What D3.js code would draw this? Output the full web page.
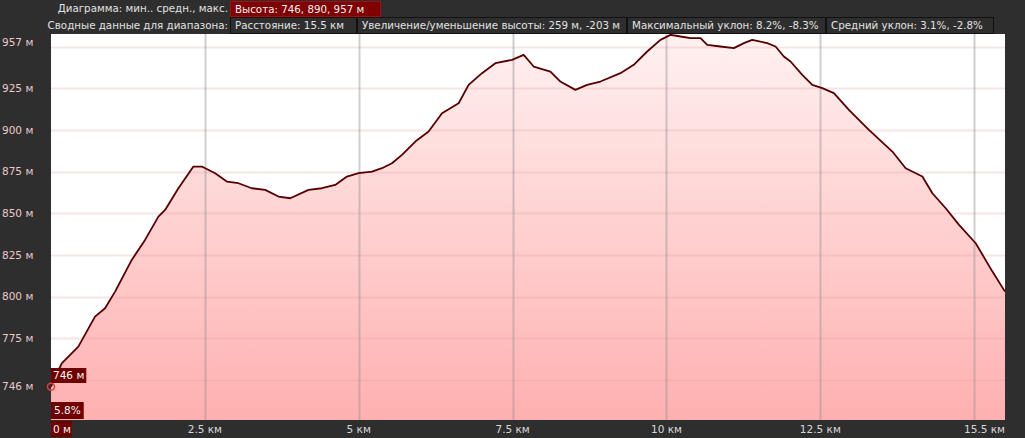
<!DOCTYPE html>
<html><head><meta charset="utf-8">
<script src="https://cdn.jsdelivr.net/npm/d3@7"></script>
<style>
html,body{margin:0;padding:0;background:#2e2e2e;}
svg{display:block;font-family:"DejaVu Sans",Verdana,sans-serif;}
</style></head>
<body>
<svg id="c" width="1025" height="438"></svg>
<script>
// ---- data ----
const distanceKm = [0,0.174,0.444,0.715,0.878,1.041,1.312,1.528,1.745,1.854,2.07,2.314,2.45,2.667,2.857,3.046,3.263,3.48,3.696,3.886,4.184,4.402,4.618,4.808,4.997,5.215,5.377,5.54,5.702,5.919,6.135,6.353,6.623,6.785,7.003,7.22,7.491,7.68,7.842,8.114,8.276,8.52,8.71,8.927,9.252,9.468,9.686,9.902,10.065,10.228,10.39,10.553,10.662,10.878,11.094,11.257,11.393,11.637,11.772,11.907,12.016,12.206,12.369,12.532,12.72,12.964,13.289,13.67,13.886,14.158,14.32,14.537,14.753,15.024,15.296,15.5];
const elevationM = [746,760,770,788,793,803,822,834,848,852,865,878,878,874,869,868,865,864,860,859,864,865,867,872,874,875,877,880,885,893,899,910,916,927,934,940,942,945,938,935,929,924,927,929,934,939,947,954,957,956,955,955,951,950,949,952,954,952,950,944,941,933,927,925,922,912,900,887,877,872,862,853,843,832,815,803];
const gridElev = [750,775,800,825,850,875,900,925,950];
const yLabelVals = [746,775,800,825,850,875,900,925,957];
const xGridKm = [2.5,5,7.5,10,12.5,15];
const xLabelKm = [0,2.5,5,7.5,10,12.5,15.5];
const xLabelText = ["0 м","2.5 км","5 км","7.5 км","10 км","12.5 км","15.5 км"];
const headerRow1Label = "Диаграмма: мин.. средн., макс.";
const headerRow1Boxes = ["Высота: 746, 890, 957 м"];
const headerRow2Label = "Сводные данные для диапазона:";
const headerRow2Boxes = ["Расстояние: 15.5 км","Увеличение/уменьшение высоты: 259 м, -203 м","Максимальный уклон: 8.2%, -8.3%","Средний уклон: 3.1%, -2.8%"];
const startElevLabel = "746 м";
const startGradeLabel = "5.8%";

// ---- layout ----
const svg = d3.select("#c");
const FS = 10.5, HFS = 10.3;
const L = 51, R = 1005, T = 34, B = 420;
const x = d3.scaleLinear().domain([0, 15.5]).range([L, R]);
const y = d3.scaleLinear().domain([726, 957.5]).range([B, T]);

const defs = svg.append("defs");
const grad = defs.append("linearGradient").attr("id","fillg")
  .attr("gradientUnits","userSpaceOnUse").attr("x1",0).attr("x2",0).attr("y1",T).attr("y2",B);
grad.append("stop").attr("offset","0").attr("stop-color","#fff1f1");
grad.append("stop").attr("offset","1").attr("stop-color","#ffb0b0");
defs.append("clipPath").attr("id","clip").append("rect")
  .attr("x",L).attr("y",T).attr("width",R-L).attr("height",B-T);

svg.append("rect").attr("width",1025).attr("height",438).attr("fill","#2e2e2e");
svg.append("rect").attr("x",L).attr("y",T).attr("width",R-L).attr("height",B-T).attr("fill","#ffffff");

const data = distanceKm.map((d,i)=>({d, e: elevationM[i]}));
const plot = svg.append("g").attr("clip-path","url(#clip)");
plot.append("path").datum(data)
  .attr("d", d3.area().x(p=>x(p.d)).y0(B).y1(p=>y(p.e)))
  .attr("fill","url(#fillg)");

// gridlines
plot.selectAll("line.hg").data(gridElev).join("line")
  .attr("x1",L).attr("x2",R).attr("y1",d=>Math.round(y(d))+0.5).attr("y2",d=>Math.round(y(d))+0.5)
  .attr("stroke","rgba(225,150,150,0.25)").attr("stroke-width",2);
plot.selectAll("line.vg").data(xGridKm).join("line")
  .attr("y1",T).attr("y2",B).attr("x1",d=>Math.round(x(d))+0.5).attr("x2",d=>Math.round(x(d))+0.5)
  .attr("stroke","rgba(140,140,140,0.42)").attr("stroke-width",2);

plot.append("path").datum(data)
  .attr("d", d3.line().x(p=>x(p.d)).y(p=>y(p.e)))
  .attr("fill","none").attr("stroke","#550000").attr("stroke-width",1.8).attr("stroke-linejoin","round");

// y labels
svg.selectAll("text.yl").data(yLabelVals).join("text")
  .attr("x",2).attr("y",d=>Math.max(y(d), T+8)).attr("dy","0.35em")
  .attr("font-size",FS).attr("fill","#ecc9c9")
  .text(d=>d+" м");

// x=0 label box
svg.append("rect").attr("x",L).attr("y",421).attr("width",21).attr("height",16).attr("fill","#6e0000");

// x labels
svg.selectAll("text.xl").data(xLabelKm).join("text")
  .attr("x",(d,i)=> i===0 ? x(d)+2 : x(d))
  .attr("y",429).attr("dy","0.35em")
  .attr("text-anchor",(d,i)=> i===0 ? "start" : (i===xLabelKm.length-1 ? "end" : "middle"))
  .attr("font-size",FS).attr("fill",(d,i)=> i===0 ? "#f4f4f4" : "#d8d8d8")
  .text((d,i)=>xLabelText[i]);

// boxed labels helper
function box(g, tx, ty, text, bg, border, color, padX, h, minW, fs){
  const t = g.append("text").attr("x",tx+padX).attr("y",ty+h/2).attr("dy","0.35em")
    .attr("font-size",fs||FS).attr("fill",color).text(text);
  const w = Math.max(minW||0, t.node().getComputedTextLength()+padX*2);
  g.insert("rect","text").attr("x",tx+0.5).attr("y",ty+0.5).attr("width",w-1).attr("height",h-1)
    .attr("fill",bg).attr("stroke",border);
  return w;
}

// start markers
const sg = svg.append("g");
box(sg, L, 368, startElevLabel, "#6e0000", "#6e0000", "#f4f4f4", 2, 15, 0);
box(sg, L, 402, startGradeLabel, "#6e0000", "#6e0000", "#f4f4f4", 3, 17, 0);
svg.append("circle").attr("cx",x(0)).attr("cy",y(elevationM[0])).attr("r",3.5)
  .attr("fill","none").attr("stroke","#e04040").attr("stroke-width",1.5);

// header
const hg = svg.append("g");
hg.append("text").attr("x",228).attr("y",8.5).attr("dy","0.35em").attr("text-anchor","end")
  .attr("font-size",HFS).attr("fill","#e2e2e2").text(headerRow1Label);
let hx = 230;
headerRow1Boxes.forEach(s=>{ hx += box(hg, hx, 1, s, "#800000", "#a01010", "#f2f2f2", 5, 16, 151, HFS); });
hg.append("text").attr("x",228).attr("y",25.5).attr("dy","0.35em").attr("text-anchor","end")
  .attr("font-size",HFS).attr("fill","#e2e2e2").text(headerRow2Label);
const row2Widths = [127,270,199,168];
hx = 230;
headerRow2Boxes.forEach((s,i)=>{ hx += box(hg, hx, 17, s, "#2e2e2e", "#121212", "#e2e2e2", 5, 17, row2Widths[i], HFS); });
</script>
</body></html>
